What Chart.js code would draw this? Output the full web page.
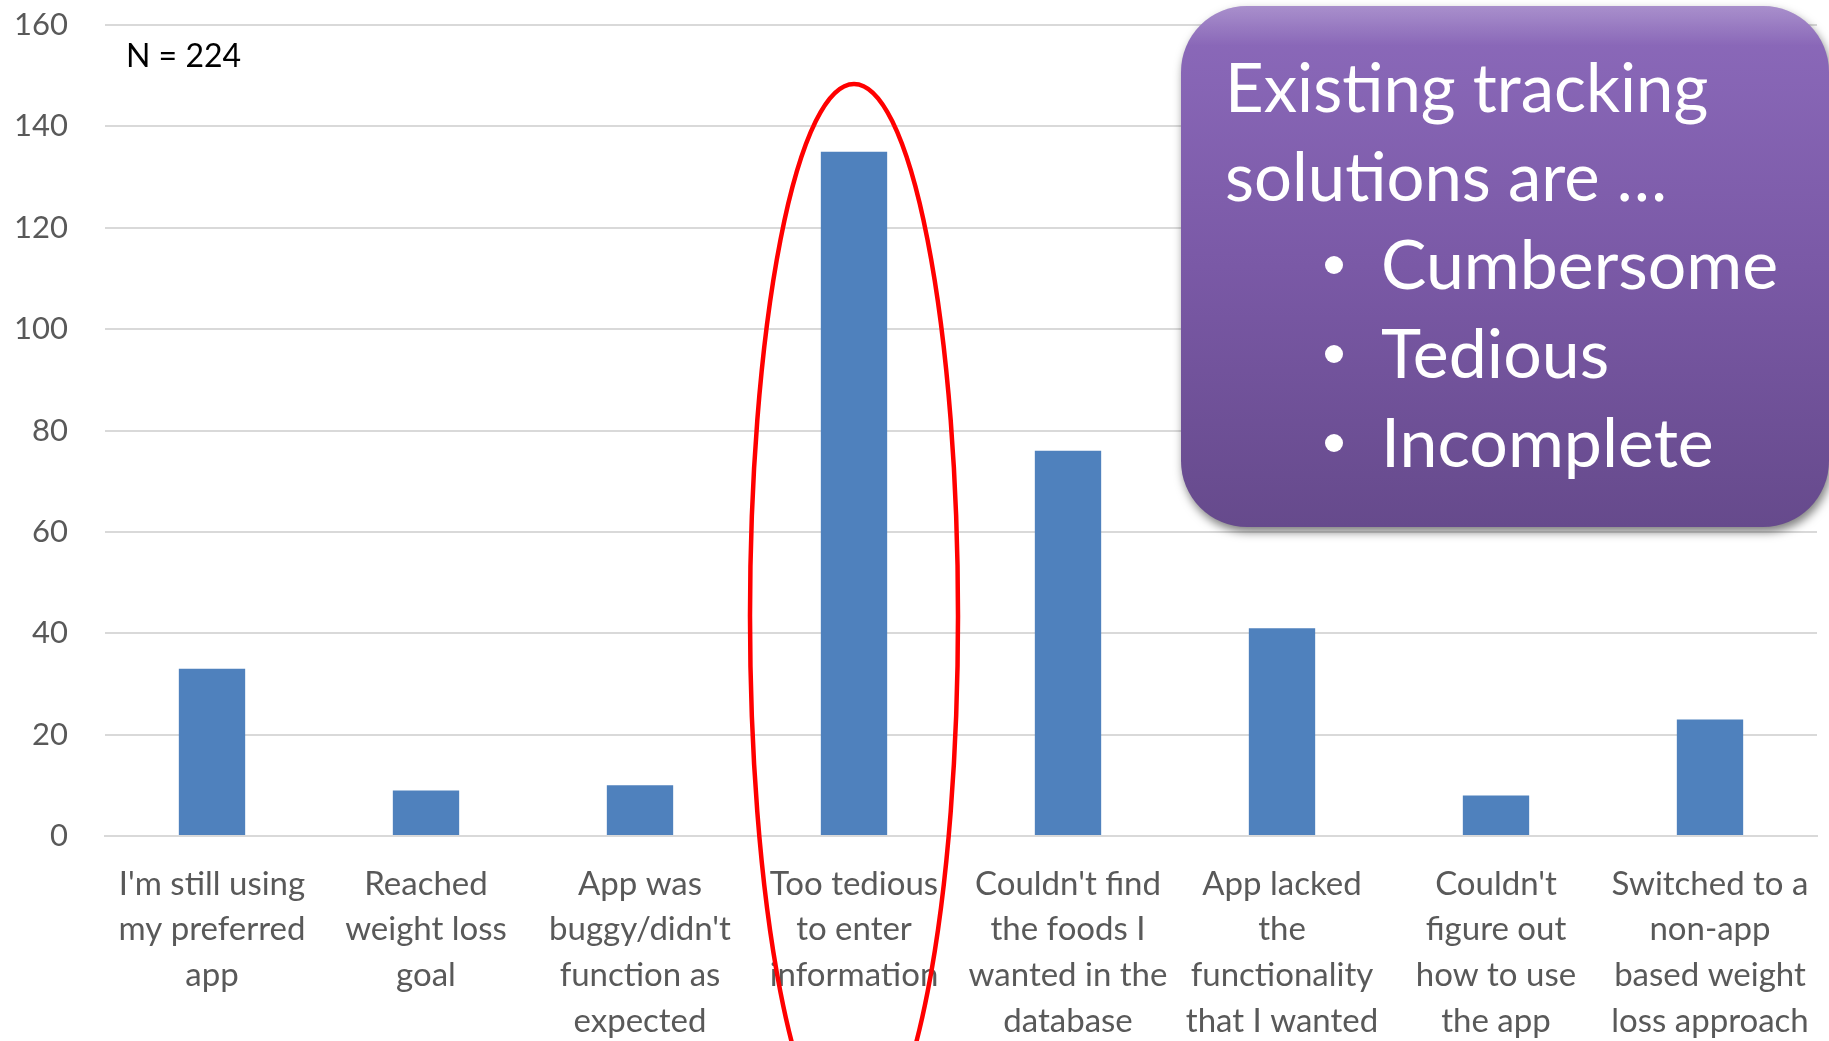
<!DOCTYPE html>
<html>
<head>
<meta charset="utf-8">
<script src="https://cdn.jsdelivr.net/npm/chart.js@4/dist/chart.umd.min.js"></script>
<style>
  html, body { margin: 0; padding: 0; background: #ffffff; overflow: hidden; }
  #wrap { width: 1829px; height: 1041px; }
</style>
</head>
<body>
<div id="wrap"><canvas id="c" width="1829" height="1041"></canvas></div>
<script>
// ---- data ----
const categories = [
  ["I'm still using", "my preferred", "app"],
  ["Reached", "weight loss", "goal"],
  ["App was", "buggy/didn't", "function as", "expected"],
  ["Too tedious", "to enter", "information"],
  ["Couldn't find", "the foods I", "wanted in the", "database"],
  ["App lacked", "the", "functionality", "that I wanted"],
  ["Couldn't", "figure out", "how to use", "the app"],
  ["Switched to a", "non-app", "based weight", "loss approach"]
];
const counts = [33, 9, 10, 135, 76, 41, 8, 23];
const yTicks = [0, 20, 40, 60, 80, 100, 120, 140, 160];
const sampleNote = "N = 224";
const calloutLines = ["Existing tracking", "solutions are \u2026"];
const calloutBullets = ["Cumbersome", "Tedious", "Incomplete"];
const highlightIndex = 3;

const FONT = "Lato, 'Open Sans', 'DejaVu Sans', sans-serif";

const annotations = {
  id: 'annotations',
  afterDraw(chart) {
    const ctx = chart.ctx;
    const xs = chart.scales.x;
    ctx.save();

    // N = 224
    ctx.fillStyle = '#000000';
    ctx.font = '32px ' + FONT;
    ctx.textBaseline = 'alphabetic';
    ctx.textAlign = 'left';
    ctx.fillText(sampleNote, 126, 67);

    // red ellipse around highlighted category
    const cx = xs.getPixelForValue(highlightIndex);
    ctx.beginPath();
    ctx.ellipse(cx, 616, 104, 532, 0, 0, Math.PI * 2);
    ctx.strokeStyle = '#ff0000';
    ctx.lineWidth = 4.5;
    ctx.stroke();

    // purple callout box
    const bx = 1181, by = 6, bw = 648, bh = 521, r = 66;
    ctx.save();
    ctx.shadowColor = 'rgba(0,0,0,0.5)';
    ctx.shadowBlur = 10;
    ctx.shadowOffsetX = 2;
    ctx.shadowOffsetY = 5;
    const g = ctx.createLinearGradient(0, by, 0, by + bh);
    g.addColorStop(0, '#8c6abb');
    g.addColorStop(0.5, '#7a59a6');
    g.addColorStop(1, '#664a8c');
    ctx.fillStyle = g;
    ctx.beginPath();
    ctx.roundRect(bx, by, bw, bh, r);
    ctx.fill();
    ctx.restore();
    // subtle top highlight
    ctx.save();
    ctx.beginPath();
    ctx.roundRect(bx, by, bw, bh, r);
    ctx.clip();
    const hg = ctx.createLinearGradient(0, by, 0, by + 40);
    hg.addColorStop(0, 'rgba(255,255,255,0.25)');
    hg.addColorStop(1, 'rgba(255,255,255,0)');
    ctx.fillStyle = hg;
    ctx.fillRect(bx, by, bw, 40);
    ctx.restore();

    // callout text
    ctx.fillStyle = '#ffffff';
    ctx.font = '67px ' + FONT;
    ctx.textAlign = 'left';
    ctx.textBaseline = 'alphabetic';
    ctx.fillText(calloutLines[0], 1225, 112);
    ctx.fillText(calloutLines[1], 1225, 201);
    ctx.font = '68px ' + FONT;
    const bBase = [289, 378, 467];
    calloutBullets.forEach((t, i) => {
      ctx.beginPath();
      ctx.arc(1334, bBase[i] - 24, 9, 0, Math.PI * 2);
      ctx.fill();
      ctx.fillText(t, 1381, bBase[i]);
    });

    ctx.restore();
  }
};

new Chart(document.getElementById('c'), {
  type: 'bar',
  data: {
    labels: categories,
    datasets: [{
      data: counts,
      backgroundColor: '#4f81bd',
      borderWidth: 0,
      barPercentage: 0.62,
      categoryPercentage: 0.5
    }]
  },
  options: {
    responsive: false,
    animation: false,
    devicePixelRatio: 1,
    layout: { padding: { top: 25, right: 12, left: 0, bottom: 0 } },
    plugins: { legend: { display: false }, tooltip: { enabled: false } },
    scales: {
      x: {
        grid: { display: false, drawTicks: false },
        border: { display: true, color: '#d9d9d9', width: 2 },
        ticks: {
          color: '#595959',
          font: { family: FONT, size: 33, lineHeight: 1.39 },
          padding: 25,
          maxRotation: 0,
          autoSkip: false
        },
        afterFit(s) { s.height = 205; s.paddingLeft = 0; s.paddingRight = 0; }
      },
      y: {
        min: 0, max: 160,
        afterBuildTicks(s) { s.ticks = yTicks.map(v => ({ value: v })); },
        grid: { color: '#d9d9d9', lineWidth: 2, drawTicks: false },
        border: { display: false },
        ticks: {
          color: '#595959',
          font: { family: FONT, size: 31 },
          padding: 37
        },
        afterFit(s) { s.width = 105; s.paddingTop = 0; s.paddingBottom = 0; }
      }
    }
  },
  plugins: [annotations]
});
</script>
</body>
</html>
